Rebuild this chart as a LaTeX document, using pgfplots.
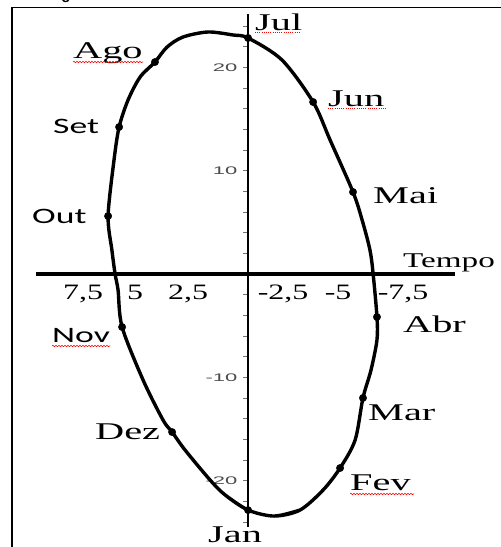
\documentclass[border=0pt]{standalone}
\usepackage{pgfplots}
\pgfplotsset{compat=1.18}
\usepackage{fontspec}
\usetikzlibrary{decorations.pathmorphing}
\setmainfont{Liberation Serif}
% wide, Word-like lettering
\newfontfamily\lblserif{Liberation Serif}[FakeStretch=1.68]
\newfontfamily\lblsans{Carlito}[FakeStretch=1.62]
\newfontfamily\tickserif{Liberation Serif}[FakeStretch=1.45]
\newfontfamily\tempofont{Liberation Serif}[FakeStretch=1.58]
\newfontfamily\yfont{Liberation Sans}[FakeStretch=2.0]
\newfontfamily\headfont{Liberation Sans}
\tikzset{xnum/.style={anchor=base, inner sep=0pt, font=\tickserif\fontsize{22}{22}\selectfont}}

\begin{document}
\begin{tikzpicture}
\begin{axis}[
  at={(36pt,-527.1pt)}, anchor=south west,
  scale only axis, width=419pt, height=513.4pt,
  xmin=-9.76, xmax=10, ymin=-24.5, ymax=25.2,
  x dir=reverse,
  axis lines=middle,
  axis line style={-},
  x axis line style={line width=3.6pt},
  y axis line style={line width=2.8pt},
  xtick=\empty,
  ytick={-20,-10,10,20},
  yticklabels={-20,-10,10,20},
  minor ytick={-24,-22,...,24},
  ytick align=center,
  major tick length=5pt, minor tick length=5pt,
  ytick style={black!55, line width=0.7pt, xshift=-3pt},
  yticklabel style={font=\yfont\fontsize{11}{11}\selectfont, text=black!70,
                    anchor=east, inner sep=0pt, xshift=-8pt},
  clip=false,
]
% orbit through the months (closed by overlapping its start)
\addplot[black, line width=3.4pt, smooth, tension=0.5] coordinates {
  (1.08,-21.39) (0,-22.85) (-1.23,-23.43) (-2.45,-22.85) (-3.54,-20.91)
  (-4.34,-18.78) (-5.05,-16.07) (-5.42,-12.00) (-5.80,-9.29) (-6.08,-6.39)
  (-6.08,-4.16) (-5.90,0) (-5.75,2.32) (-5.38,5.23) (-4.95,7.94)
  (-3.87,12.97) (-3.07,16.65) (-1.60,20.72) (0,22.85) (0.71,23.14)
  (1.89,23.43) (3.07,22.94) (3.82,21.97) (4.39,20.52) (5.09,19.07)
  (5.66,16.84) (6.08,14.23) (6.32,11.04) (6.60,5.61) (6.42,2.32)
  (6.27,0) (6.13,-1.55) (5.94,-5.13) (4.95,-10.26) (4.01,-14.13)
  (3.58,-15.30) (2.97,-17.04) (1.79,-19.94) (1.08,-21.39) (0,-22.85)
  (-1.23,-23.43) (-2.45,-22.85)
};
% monthly positions
\addplot[only marks, mark=*, mark size=3.7pt, black] coordinates {
  (0,-22.85) (-4.34,-18.78) (-5.42,-12.00) (-6.08,-4.16) (-4.95,7.94)
  (-3.07,16.65) (0,22.85) (4.39,20.52) (6.08,14.23) (6.60,5.61)
  (5.94,-5.13) (3.58,-15.30)
};
% horizontal axis numbers
\node[xnum] at (axis cs:7.78,-2.5) {7,5};
\node[xnum] at (axis cs:5.33,-2.5) {5};
\node[xnum] at (axis cs:2.83,-2.5) {2,5};
\node[xnum] at (axis cs:-1.65,-2.5) {-2,5};
\node[xnum] at (axis cs:-4.25,-2.5) {-5};
\node[xnum] at (axis cs:-7.31,-2.5) {-7,5};
\end{axis}

\begin{scope}[x=1pt, y=-1pt]
  % frame
  \draw[line width=1.8pt] (12,549) -- (12,7.5) -- (503,7.5);
  \node[anchor=base, inner sep=0pt, font=\headfont\bfseries\fontsize{15}{15}\selectfont]
    at (66,-0.5) {g};
  % month names
  \begin{scope}[every node/.style={anchor=base west, inner sep=0pt,
                font=\lblserif\fontsize{24}{24}\selectfont}]
    \node at (255,30) {Jul};
    \node at (328,106) {Jun};
    \node at (73,58) {Ago};
    \node at (373,203) {Mai};
    \node at (403,332) {Abr};
    \node at (368,420) {Mar};
    \node at (95,439) {Dez};
    \node at (350,490) {Fev};
    \node at (208,542) {Jan};
  \end{scope}
  \begin{scope}[every node/.style={anchor=base west, inner sep=0pt,
                font=\lblsans\fontsize{22}{22}\selectfont}]
    \node at (53,133) {Set};
    \node at (32,223) {Out};
    \node at (52,342) {Nov};
  \end{scope}
  \node[anchor=base west, inner sep=0pt, font=\tempofont\fontsize{21}{21}\selectfont]
    at (403,267) {Tempo};
  % proofing marks under some words
  \begin{scope}[red, line width=0.6pt,
                decoration={snake, amplitude=0.7pt, segment length=3pt}]
    \draw[decorate] (73,62) -- (143,62);
    \draw[decorate] (52,346) -- (110,346);
    \draw[decorate] (350,494) -- (414,494);
  \end{scope}
  \draw[red, line width=0.8pt, dash pattern=on 1pt off 1.2pt] (255,32) -- (300,32);
  \draw[red, line width=0.8pt, dash pattern=on 1pt off 1.2pt] (328,108) -- (387,108);
\end{scope}

\pgfresetboundingbox
\path[use as bounding box] (0,0) rectangle (501pt,-547pt);
\end{tikzpicture}
\end{document}
